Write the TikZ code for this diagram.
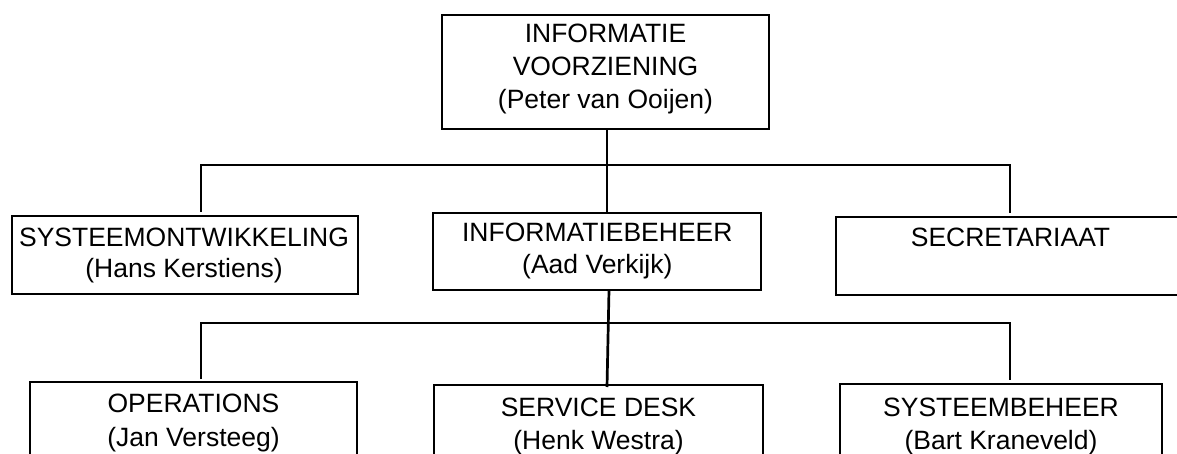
\documentclass[tikz,border=0pt]{standalone}
\usepackage{fontspec}
\setmainfont{Liberation Sans}
\begin{document}
\begin{tikzpicture}[x=1pt,y=-1pt,
  box/.style={draw=black,line width=2.7pt,rectangle,inner sep=0pt,outer sep=0pt},
  txt/.style={inner sep=0pt,outer sep=0pt,align=center,anchor=base,font=\fontsize{26.5}{#1}\selectfont},
  txt/.default=32,
  conn/.style={draw=black,line width=2.7pt}]
\useasboundingbox (0,0) rectangle (1177,454);
\clip (0,0) rectangle (1177,454);
% boxes
\node[box,minimum width=327pt,minimum height=114pt] (top) at (605.5,72) {};
\node[box,minimum width=346pt,minimum height=78pt] (sys) at (185,255) {};
\node[box,minimum width=328pt,minimum height=77pt] (ib) at (597,251.5) {};
\node[box,minimum width=349pt,minimum height=78pt] (sec) at (1010.5,256) {};
\node[box,minimum width=327pt,minimum height=98pt] (ops) at (193.5,431) {};
\node[box,minimum width=329pt,minimum height=95pt] (sd) at (598.5,432.5) {};
\node[box,minimum width=322pt,minimum height=96pt] (sb) at (1001,432) {};
% texts (anchor base = baseline of last line)
\node[txt=33] (topt) at (605.5,109) {INFORMATIE\\VOORZIENING\\(Peter van Ooijen)};
\node[txt=30.5] (syst) at (184,277) {SYSTEEMONTWIKKELING\\(Hans Kerstiens)};
\node[txt=31.5] (ibt) at (597.3,273) {INFORMATIEBEHEER\\(Aad Verkijk)};
\node[txt] (sect) at (1010.5,246.5) {SECRETARIAAT};
\node[txt=34] (opst) at (193.5,446) {OPERATIONS\\(Jan Versteeg)};
\node[txt=33] (sdt) at (598.5,449) {SERVICE DESK\\(Henk Westra)};
\node[txt=33] (sbt) at (1001,449) {SYSTEEMBEHEER\\(Bart Kraneveld)};
% connector junctions
\coordinate (b1) at (607,165);
\coordinate (b1l) at (201,165);
\coordinate (b1r) at (1010,165);
\coordinate (b2) at (607,323);
\coordinate (b2l) at (201,323);
\coordinate (b2r) at (1010,323);
% connectors
\draw[conn] (top.south -| b1) -- (ib.north -| b1);
\draw[conn,shorten <=4pt,shorten >=4pt] (sys.north -| b1l) |- (b1) -| (sec.north -| b1r);
\draw[conn] ([xshift=2pt]ib.south -| b2) -- ([yshift=-2pt]sd.north -| b2);
\draw[conn,shorten <=3pt,shorten >=4pt] (ops.north -| b2l) |- (b2) -| (sb.north -| b2r);
\end{tikzpicture}
\end{document}
